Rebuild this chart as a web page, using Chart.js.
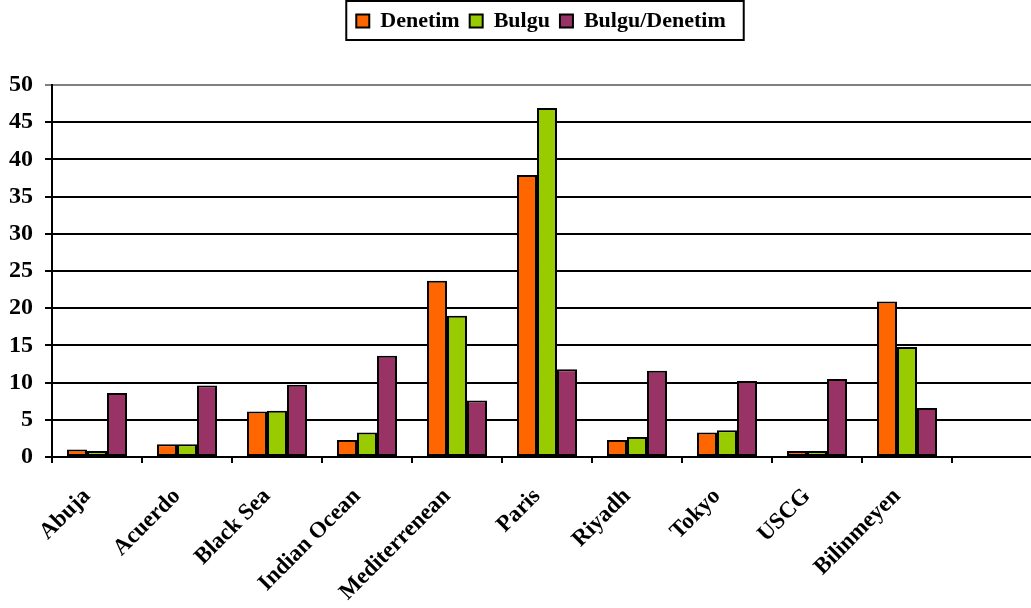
<!DOCTYPE html>
<html>
<head>
<meta charset="utf-8">
<script src="https://cdn.jsdelivr.net/npm/chart.js@4.4.1/dist/chart.umd.min.js"></script>
<style>
  html, body { margin: 0; padding: 0; background: #fff; overflow: hidden; }
  #wrap { width: 1042px; height: 608px; }
</style>
</head>
<body>
<div id="wrap"><canvas id="chart"></canvas></div>
<script>
// categories (last slot is empty in the original)
const categories = ['Abuja', 'Acuerdo', 'Black Sea', 'Indian Ocean', 'Mediterrenean',
  'Paris', 'Riyadh', 'Tokyo', 'USCG', 'Bilinmeyen', ''];

const denetim = [1.0, 1.7, 6.1, 2.3, 23.7, 37.9, 2.3, 3.3, 0.8, 20.9, null];
const bulgu = [0.8, 1.7, 6.2, 3.3, 19.0, 46.9, 2.7, 3.6, 0.8, 14.8, null];
const bulguDenetim = [8.6, 9.6, 9.7, 13.6, 7.6, 11.8, 11.6, 10.2, 10.5, 6.6, null];

const yTicks = [0, 5, 10, 15, 20, 25, 30, 35, 40, 45, 50];

const FONT = '"Liberation Serif", "Times New Roman", serif';

// legend: extra room below it, shifted a bit right of centre, black frame
const legendFrame = {
  id: 'legendFrame',
  afterInit(chart) {
    const legend = chart.legend;
    const fit = legend.fit;
    legend.fit = function () {
      fit.call(this);
      this.height += 43;
    };
  },
  afterLayout(chart) {
    chart.legend.left += 20;
    chart.legend.right += 20;
  },
  afterDraw(chart) {
    const boxes = chart.legend.legendHitBoxes;
    if (!boxes || !boxes.length) return;
    const left = Math.min(...boxes.map(b => b.left)) - 10;
    const right = Math.max(...boxes.map(b => b.left + b.width)) + 18;
    const top = Math.min(...boxes.map(b => b.top)) - 9;
    const bottom = Math.max(...boxes.map(b => b.top + b.height)) + 8;
    const ctx = chart.ctx;
    ctx.save();
    ctx.strokeStyle = '#000';
    ctx.lineWidth = 2;
    ctx.strokeRect(left, top, right - left, bottom - top);
    ctx.restore();
  }
};

function makeSet(label, data, color) {
  return {
    label,
    data,
    backgroundColor: color,
    borderColor: '#000',
    borderWidth: 2,
    borderSkipped: false,
    categoryPercentage: 0.667,
    barPercentage: 1.0
  };
}

new Chart(document.getElementById('chart'), {
  type: 'bar',
  data: {
    labels: categories,
    datasets: [
      makeSet('Denetim', denetim, '#FF6600'),
      makeSet('Bulgu', bulgu, '#99CC00'),
      makeSet('Bulgu/Denetim', bulguDenetim, '#993366')
    ]
  },
  options: {
    responsive: true,
    maintainAspectRatio: false,
    animation: false,
    layout: { padding: 0 },
    plugins: {
      tooltip: { enabled: false },
      legend: {
        position: 'top',
        labels: {
          color: '#000',
          font: { family: FONT, size: 22, weight: 'bold' },
          boxWidth: 13,
          boxHeight: 13,
          padding: 10
        }
      }
    },
    scales: {
      x: {
        afterFit(scale) { scale.height = 151; },
        grid: {
          offset: true,
          drawOnChartArea: false,
          drawTicks: true,
          tickLength: 6,
          color: '#000',
          lineWidth: 2
        },
        border: { display: true, color: '#000', width: 2 },
        ticks: {
          color: '#000',
          font: { family: FONT, size: 23, weight: 'bold' },
          minRotation: 45,
          maxRotation: 45,
          autoSkip: false,
          labelOffset: -10,
          padding: 20
        }
      },
      y: {
        min: 0,
        max: 50,
        afterFit(scale) { scale.width = 52; },
        afterBuildTicks(scale) { scale.ticks = yTicks.map(v => ({ value: v })); },
        grid: {
          color: ctx => (ctx.tick && ctx.tick.value === 50 ? '#808080' : '#000'),
          lineWidth: 2,
          tickLength: 7
        },
        border: { display: true, color: '#000', width: 2 },
        ticks: {
          color: '#000',
          font: { family: FONT, size: 24, weight: 'bold' },
          padding: 12
        }
      }
    }
  },
  plugins: [legendFrame]
});
</script>
</body>
</html>
